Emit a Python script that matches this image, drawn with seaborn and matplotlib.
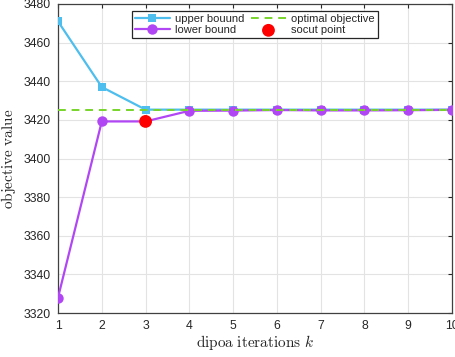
import matplotlib
matplotlib.use("Agg")
import matplotlib.pyplot as plt
import numpy as np
import pandas as pd
import seaborn as sns

iterations = [1, 2, 3, 4, 5, 6, 7, 8, 9, 10]
upper_bound = [3471.0, 3437.0, 3425.3, 3425.3, 3425.3, 3425.3, 3425.3, 3425.3, 3425.3, 3425.3]
lower_bound = [3328.0, 3419.2, 3419.2, 3424.7, 3424.8, 3425.1, 3424.9, 3424.9, 3425.0, 3425.2]
optimal_objective = 3425.3
socut_iteration = [3]
socut_value = [3419.2]

sns.set_style("whitegrid")
plt.rcParams["font.family"] = ["Liberation Sans", "DejaVu Sans"]
plt.rcParams["mathtext.fontset"] = "cm"

df = pd.DataFrame({
    "k": iterations * 2,
    "value": upper_bound + lower_bound,
    "series": ["upper bouund"] * len(iterations) + ["lower bound"] * len(iterations),
})

fig = plt.figure(figsize=(4.55, 3.57), dpi=100)
ax = fig.add_axes([0.1275, 0.1232, 0.866, 0.8656])

sns.lineplot(data=df[df["series"] == "upper bouund"], x="k", y="value", ax=ax,
             color="#4DBEEE", marker="s", markersize=5.5, markeredgewidth=0,
             linewidth=1.6, label="upper bouund", zorder=3)
sns.lineplot(data=df[df["series"] == "lower bound"], x="k", y="value", ax=ax,
             color="#B146F5", marker="o", markersize=7.5, markeredgewidth=0,
             linewidth=1.6, label="lower bound", zorder=4)
ax.axhline(optimal_objective, color="#77D42A", linestyle=(0, (4, 3)), linewidth=1.4,
           label="optimal objective", zorder=5)
sns.scatterplot(x=socut_iteration, y=socut_value, ax=ax, color="#FF0000", s=85,
                edgecolor="none", label="socut point", zorder=6)

ax.set_xlim(1, 10)
ax.set_ylim(3320, 3480)
ax.set_xticks(iterations)
ax.set_yticks(np.arange(3320, 3481, 20))
ax.tick_params(axis="both", direction="in", length=3, width=0.8, labelsize=8.8,
               colors="#262626", top=True, right=True, pad=5)
ax.grid(True, color="#E3E3E3", linewidth=0.8)
for sp in ax.spines.values():
    sp.set_color("#404040")
    sp.set_linewidth(0.9)

ax.set_xlabel(r"$\mathrm{dipoa\ iterations}\ k$", fontsize=11, color="#262626", labelpad=1)
ax.set_ylabel(r"$\mathrm{objective\ value}$", fontsize=11, color="#262626", labelpad=4)

handles, labels = ax.get_legend_handles_labels()
order = [labels.index(n) for n in ["upper bouund", "lower bound", "optimal objective", "socut point"]]
leg = ax.legend([handles[i] for i in order], [labels[i] for i in order], ncol=2,
                loc="upper center", bbox_to_anchor=(0.5, 0.978), fontsize=8,
                frameon=True, fancybox=False, edgecolor="#262626", framealpha=1,
                handlelength=3.1, columnspacing=0.6, borderpad=0.25, labelspacing=0.15,
                handletextpad=0.5, borderaxespad=0)
leg.get_frame().set_linewidth(0.9)

fig.savefig("out.png", dpi=100)
